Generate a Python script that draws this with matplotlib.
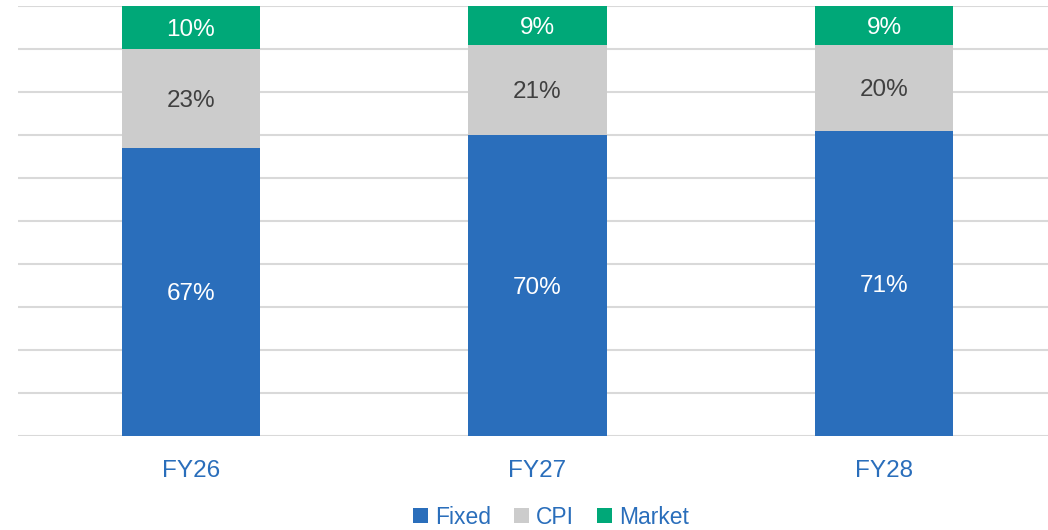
# Barras apiladas al 100%: Fixed / CPI / Market por año fiscal

import matplotlib.pyplot as plt
import numpy as np
from matplotlib.patches import Patch

years = ['FY26', 'FY27', 'FY28']
fixed = [67, 70, 71]
cpi = [23, 21, 20]
market = [10, 9, 9]

series_names = ['Fixed', 'CPI', 'Market']
colors = ['#2A6EBB', '#CCCCCC', '#00A878']
text_colors = ['white', '#404040', 'white']

plt.rcParams['font.family'] = ['Liberation Sans', 'DejaVu Sans']

fig = plt.figure(figsize=(10.48, 5.30), dpi=100)
ax = fig.add_axes([18 / 1048, 94 / 530, 1030 / 1048, 430 / 530])

x = np.arange(len(years))
bottom = np.zeros(len(years))
for vals, name, col, tcol in zip([fixed, cpi, market], series_names, colors, text_colors):
    bars = ax.bar(x, vals, width=0.40, bottom=bottom, color=col, label=name, zorder=3)
    for b, v in zip(bars, vals):
        ax.text(b.get_x() + b.get_width() / 2, b.get_y() + b.get_height() / 2,
                f'{v}%', ha='center', va='center_baseline', color=tcol, fontsize=17.5, zorder=4)
    bottom += np.array(vals)

ax.set_ylim(0, 100)
ax.set_xlim(-0.499, 2.473)
ax.set_yticks(np.arange(0, 101, 10))
ax.yaxis.grid(True, color='#D9D9D9', linewidth=1.5, zorder=0)
ax.tick_params(axis='y', left=False, labelleft=False)
ax.set_xticks(x)
ax.set_xticklabels(years, color='#2A6EBB', fontsize=17.5)
ax.tick_params(axis='x', length=0, pad=17)
for s in ax.spines.values():
    s.set_visible(False)

handles = [Patch(facecolor=c, label=n) for c, n in zip(colors, series_names)]
leg = fig.legend(handles=handles, loc='center', bbox_to_anchor=(551 / 1048, 13 / 530),
                 ncol=3, frameon=False, fontsize=16.5, handlelength=0.65, handleheight=0.65,
                 handletextpad=0.3, columnspacing=1.0)
for t in leg.get_texts():
    t.set_color('#2A6EBB')

fig.savefig('out.png', dpi=100)
